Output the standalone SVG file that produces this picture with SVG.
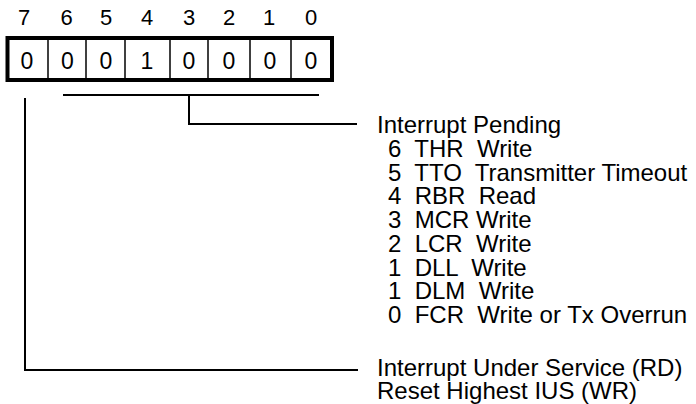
<svg xmlns="http://www.w3.org/2000/svg" width="696" height="404" viewBox="0 0 696 404">
<style>
text{font-family:"Liberation Sans",Arial,sans-serif;fill:#000;white-space:pre}
.bit{font-size:22px;text-anchor:middle}
.cell{font-size:23px;text-anchor:middle}
.lbl{font-size:24px}
.ln{fill:none;stroke:#000;stroke-width:2}
.div{stroke:#000;stroke-width:1.5}
</style>
<rect width="696" height="404" fill="#fff"/>
<g id="bitnumbers">
<text class="bit" x="24" y="24.5">7</text>
<text class="bit" x="66.5" y="24.5">6</text>
<text class="bit" x="106" y="24.5">5</text>
<text class="bit" x="147" y="24.5">4</text>
<text class="bit" x="189" y="24.5">3</text>
<text class="bit" x="229" y="24.5">2</text>
<text class="bit" x="269" y="24.5">1</text>
<text class="bit" x="311" y="24.5">0</text>
</g>
<g id="register">
<rect x="7.5" y="38" width="324.5" height="42" fill="#fff" stroke="#000" stroke-width="4"/>
<line class="div" x1="48" y1="38" x2="48" y2="80"/>
<line class="div" x1="86" y1="38" x2="86" y2="80"/>
<line class="div" x1="125" y1="38" x2="125" y2="80"/>
<line class="div" x1="170" y1="38" x2="170" y2="80"/>
<line class="div" x1="208" y1="38" x2="208" y2="80"/>
<line class="div" x1="250" y1="38" x2="250" y2="80"/>
<line class="div" x1="291" y1="38" x2="291" y2="80"/>
<text class="cell" x="27" y="68.5">0</text>
<text class="cell" x="67.5" y="68.5">0</text>
<text class="cell" x="106" y="68.5">0</text>
<text class="cell" x="147" y="68.5">1</text>
<text class="cell" x="189" y="68.5">0</text>
<text class="cell" x="229" y="68.5">0</text>
<text class="cell" x="270" y="68.5">0</text>
<text class="cell" x="311" y="68.5">0</text>
</g>
<g id="connectors">
<line class="ln" x1="63" y1="95" x2="319" y2="95"/>
<polyline class="ln" points="189,95 189,124 357,124"/>
<polyline class="ln" points="25,98 25,370 358,370"/>
</g>
<g id="interrupt-pending">
<text class="lbl" x="377" y="133">Interrupt Pending</text>
<text class="lbl" x="388" y="156.75">6  THR  Write</text>
<text class="lbl" x="388" y="180.5">5  TTO  Transmitter Timeout</text>
<text class="lbl" x="388" y="204.25">4  RBR  Read</text>
<text class="lbl" x="388" y="228">3  MCR Write</text>
<text class="lbl" x="388" y="251.75">2  LCR  Write</text>
<text class="lbl" x="388" y="275.5">1  DLL  Write</text>
<text class="lbl" x="388" y="299.25">1  DLM  Write</text>
<text class="lbl" x="388" y="323">0  FCR  Write or Tx Overrun</text>
</g>
<g id="interrupt-under-service">
<text class="lbl" x="377" y="376">Interrupt Under Service (RD)</text>
<text class="lbl" x="377" y="399">Reset Highest IUS (WR)</text>
</g>
</svg>
